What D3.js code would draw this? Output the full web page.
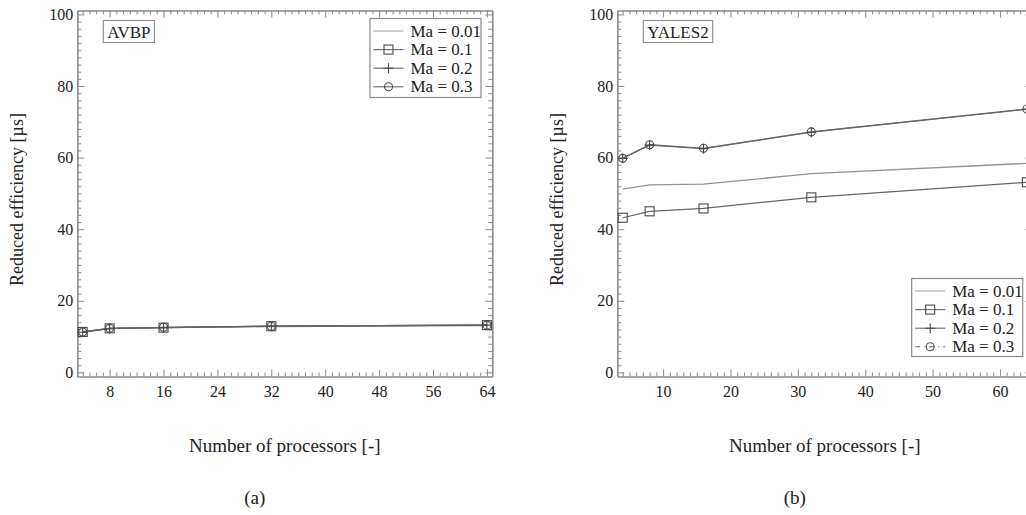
<!DOCTYPE html>
<html>
<head>
<meta charset="utf-8">
<script src="https://cdn.jsdelivr.net/npm/d3@7"></script>
<style>
  html, body { margin: 0; padding: 0; background: #fff; }
  svg { display: block; }
  text { font-family: "Liberation Serif", "Times New Roman", serif; fill: #222; }
</style>
</head>
<body>
<svg id="chart" width="1026" height="515"></svg>
<script>
// ---------- data ----------
const processors = [4, 8, 16, 32, 64];
const seriesNames = ["Ma = 0.01", "Ma = 0.1", "Ma = 0.2", "Ma = 0.3"];
const seriesMarkers = ["none", "square", "plus", "circle"];

// AVBP (a)
const avbpMa001 = [11.3, 12.3, 12.5, 12.8, 13.1];
const avbpMa01  = [11.3, 12.3, 12.5, 12.9, 13.2];
const avbpMa02  = [11.2, 12.2, 12.5, 12.9, 13.2];
const avbpMa03  = [11.3, 12.3, 12.6, 12.9, 13.2];

// YALES2 (b)
const yalesMa001 = [51.2, 52.4, 52.6, 55.5, 58.4];
const yalesMa01  = [43.2, 45.0, 45.8, 48.9, 53.1];
const yalesMa02  = [59.8, 63.5, 62.5, 67.1, 73.5];
const yalesMa03  = [59.8, 63.6, 62.6, 67.2, 73.6];

// axis ticks
const yMajorTicks = [0, 20, 40, 60, 80, 100];
const xMajorTicksA = [8, 16, 24, 32, 40, 48, 56, 64];
const xMajorTicksB = [10, 20, 30, 40, 50, 60];

(function () {
const FONT = '"Liberation Serif", "Times New Roman", serif';
const panels = [
  { label: "AVBP", caption: "(a)", left: 77.3, series: [avbpMa001, avbpMa01, avbpMa02, avbpMa03],
    xTicks: xMajorTicksA, legend: { x: 370, y: 18.5, w: 111, h: 79 }, dashLast: false },
  { label: "YALES2", caption: "(b)", left: 617.3, series: [yalesMa001, yalesMa01, yalesMa02, yalesMa03],
    xTicks: xMajorTicksB, legend: { x: 911.7, y: 278.5, w: 111, h: 78 }, dashLast: true }
];

const svg = d3.select("#chart");
const plotW = 415, plotTop = 10.5, plotBottom = 376.5;
const axisColor = "#8a8a8a";
const lineColor = "#666";
const markColor = "#4a4a4a";

function drawMarker(g, type, cx, cy, color) {
  if (type === "square") {
    g.append("rect").attr("x", cx - 4.5).attr("y", cy - 4.5).attr("width", 9).attr("height", 9)
      .attr("fill", "none").attr("stroke", color).attr("stroke-width", 1.1);
  } else if (type === "plus") {
    g.append("path").attr("d", `M${cx - 5},${cy}H${cx + 5}M${cx},${cy - 5}V${cy + 5}`)
      .attr("stroke", color).attr("stroke-width", 1.1).attr("fill", "none");
  } else if (type === "circle") {
    g.append("circle").attr("cx", cx).attr("cy", cy).attr("r", 4)
      .attr("fill", "none").attr("stroke", color).attr("stroke-width", 1.1);
  }
}

function txt(g, size) {
  return g.append("text").attr("font-family", FONT).style("font-family", FONT)
    .style("font-size", size + "px").attr("fill", "#222");
}

panels.forEach(p => {
  const x = d3.scaleLinear().domain([3.2, 64.8]).range([p.left, p.left + plotW]);
  const y = d3.scaleLinear().domain([-1.15, 101.1]).range([plotBottom, plotTop]);
  const g = svg.append("g");

  const minorX = d3.range(4, 65, 1).filter(v => !p.xTicks.includes(v));
  const minorY = d3.range(0, 101, 2).filter(v => !yMajorTicks.includes(v));

  function styleAxis(sel) {
    sel.attr("font-family", FONT);
    sel.select(".domain").attr("stroke", axisColor).attr("stroke-width", 1.2);
    sel.selectAll(".tick line").attr("stroke", axisColor).attr("stroke-width", 1);
    sel.selectAll(".tick text").style("font-family", FONT)
      .style("font-size", "16px").attr("fill", "#222");
  }

  g.append("g").attr("transform", `translate(0,${plotBottom})`)
    .call(d3.axisBottom(x).tickValues(minorX).tickSize(-4).tickFormat("").tickSizeOuter(0)).call(styleAxis);
  g.append("g").attr("transform", `translate(0,${plotBottom})`)
    .call(d3.axisBottom(x).tickValues(p.xTicks).tickSize(-7).tickPadding(9).tickFormat(d3.format("d")).tickSizeOuter(0)).call(styleAxis);
  g.append("g").attr("transform", `translate(0,${plotTop})`)
    .call(d3.axisTop(x).tickValues(minorX).tickSize(-4).tickFormat("").tickSizeOuter(0)).call(styleAxis);
  g.append("g").attr("transform", `translate(0,${plotTop})`)
    .call(d3.axisTop(x).tickValues(p.xTicks).tickSize(-7).tickFormat("").tickSizeOuter(0)).call(styleAxis);
  g.append("g").attr("transform", `translate(${p.left},0)`)
    .call(d3.axisLeft(y).tickValues(minorY).tickSize(-4).tickFormat("").tickSizeOuter(0)).call(styleAxis);
  g.append("g").attr("transform", `translate(${p.left},0)`)
    .call(d3.axisLeft(y).tickValues(yMajorTicks).tickSize(-7).tickPadding(4).tickFormat(d3.format("d")).tickSizeOuter(0)).call(styleAxis);
  g.append("g").attr("transform", `translate(${p.left + plotW},0)`)
    .call(d3.axisRight(y).tickValues(minorY).tickSize(-4).tickFormat("").tickSizeOuter(0)).call(styleAxis);
  g.append("g").attr("transform", `translate(${p.left + plotW},0)`)
    .call(d3.axisRight(y).tickValues(yMajorTicks).tickSize(-7).tickFormat("").tickSizeOuter(0)).call(styleAxis);

  const line = d3.line().x((d, i) => x(processors[i])).y(d => y(d));
  p.series.forEach((vals, si) => {
    const col = si === 0 ? "#939393" : lineColor;
    g.append("path").datum(vals).attr("d", line).attr("fill", "none")
      .attr("stroke", col).attr("stroke-width", si === 0 ? 1.3 : 1.2);
  });
  p.series.forEach((vals, si) => {
    vals.forEach((v, i) => drawMarker(g, seriesMarkers[si], x(processors[i]), y(v), markColor));
  });

  const labBox = g.append("rect");
  const lab = txt(g, 17).attr("x", p.left + 30).attr("y", 37.5).text(p.label);
  const bb = lab.node().getBBox();
  labBox.attr("x", bb.x - 4).attr("y", 20.5).attr("width", bb.width + 8).attr("height", 22)
    .attr("fill", "#fff").attr("stroke", axisColor).attr("stroke-width", 1.1);

  const L = p.legend;
  g.append("rect").attr("x", L.x).attr("y", L.y).attr("width", L.w).attr("height", L.h)
    .attr("fill", "#fff").attr("stroke", axisColor).attr("stroke-width", 1.2);
  seriesNames.forEach((name, si) => {
    const ry = L.y + 12.5 + si * 18.6;
    const x0 = L.x + 3.5, x1 = L.x + 33.5;
    const ln = g.append("line").attr("x1", x0).attr("x2", x1).attr("y1", ry).attr("y2", ry)
      .attr("stroke", si === 0 ? "#9a9a9a" : lineColor).attr("stroke-width", si === 0 ? 1 : 1.1);
    if (p.dashLast && si === 3) ln.attr("stroke-dasharray", "5,4,1,4");
    drawMarker(g, seriesMarkers[si], (x0 + x1) / 2, ry, markColor);
    txt(g, 17).attr("x", L.x + 40.5).attr("y", ry + 5.5).text(name);
  });

  const cx = p.left + plotW / 2;
  txt(g, 19).attr("x", cx).attr("y", 452).attr("text-anchor", "middle").text("Number of processors [-]");
  txt(g, 18).attr("transform", `translate(${p.left - 54},${(plotTop + plotBottom) / 2 + 6}) rotate(-90)`)
    .attr("text-anchor", "middle").text("Reduced efficiency [µs]");
  txt(g, 19).attr("x", cx - 30).attr("y", 504).attr("text-anchor", "middle").text(p.caption);
});
})();
</script>
</body>
</html>
